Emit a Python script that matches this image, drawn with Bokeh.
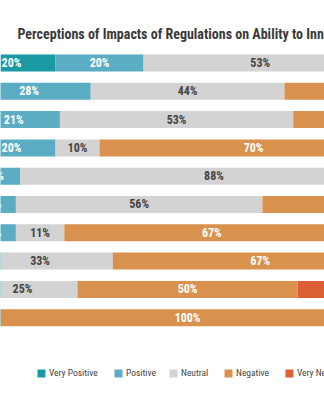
import numpy as np
from bokeh.plotting import figure
from bokeh.models import ColumnDataSource, Range1d, Legend, LegendItem, Label
from bokeh.core.properties import value
from bokeh.embed import file_html
from bokeh.resources import INLINE

# ---- data ----
rows = ["Row 1", "Row 2", "Row 3", "Row 4", "Row 5",
        "Row 6", "Row 7", "Row 8", "Row 9", "Row 10"]
very_positive = [20, 0, 0, 0, 0, 0, 0, 0, 0, 0]
positive = [20, 28, 21, 20, 12, 11, 11, 0, 0, 0]
neutral = [53, 44, 53, 10, 88, 56, 11, 33, 25, 0]
negative = [7, 28, 26, 70, 0, 33, 67, 67, 50, 100]
very_negative = [0, 0, 0, 0, 0, 0, 11, 0, 25, 0]
series_names = ["Very Positive", "Positive", "Neutral", "Negative", "Very Negative"]
title_text = "Perceptions of Impacts of Regulations on Ability to Innovate"

colors = ["#1b9aa3", "#5aadc3", "#d3d3d3", "#d9924e", "#dd5f35"]
label_colors = ["white", "white", "#444444", "white", "white"]
FONT = "Roboto Condensed, DejaVu Sans Condensed, Roboto"

keys = ["vp", "p", "n", "neg", "vn"]
series = [very_positive, positive, neutral, negative, very_negative]
ypos = list(range(len(rows)))
data = {"y": ypos}
for k, s in zip(keys, series):
    data[k] = s
src = ColumnDataSource(data)

p = figure(width=324, height=400, output_backend="svg", toolbar_location=None,
           x_range=Range1d(7.5, 81.1), y_range=Range1d(11.926, -2.208),
           min_border=0, x_axis_location=None, y_axis_location=None)
p.outline_line_color = None
p.xgrid.visible = False
p.ygrid.visible = False
p.background_fill_color = "white"

renderers = p.hbar_stack(keys, y="y", height=0.6, color=colors, source=src,
                         line_color=None)

# segment labels
lx, ly, lt, lc = [], [], [], []
for i in range(len(rows)):
    start = 0
    for j, s in enumerate(series):
        v = s[i]
        if v > 0:
            lx.append(start + v / 2)
            ly.append(i)
            lt.append(f"{v}%")
            lc.append(label_colors[j])
        start += v
lsrc = ColumnDataSource(dict(x=lx, y=ly, t=lt, c=lc))
p.text(x="x", y="y", text="t", text_color="c", source=lsrc,
       text_align="center", text_baseline="middle",
       text_font=value(FONT), text_font_size="12px", text_font_style="bold")

p.add_layout(Label(x=17, y=367, x_units="screen", y_units="screen",
                   text=title_text, text_font=FONT, text_font_size="14px",
                   text_font_style="bold", text_color="#3a3a3a",
                   text_baseline="alphabetic"))

legend_x = [36, 113, 168, 223, 284]
for n, r, lxp in zip(series_names, renderers, legend_x):
    lg = Legend(items=[LegendItem(label=n, renderers=[r])],
                orientation="horizontal", location=(lxp, 22),
                glyph_width=10, glyph_height=10, label_height=10, label_standoff=3,
                spacing=0, padding=0, margin=0, border_line_color=None,
                background_fill_alpha=0, label_text_font=FONT,
                label_text_font_size="9.5px", label_text_color="#444444")
    p.add_layout(lg, "center")

open("out.html", "w").write(file_html(p, INLINE))
